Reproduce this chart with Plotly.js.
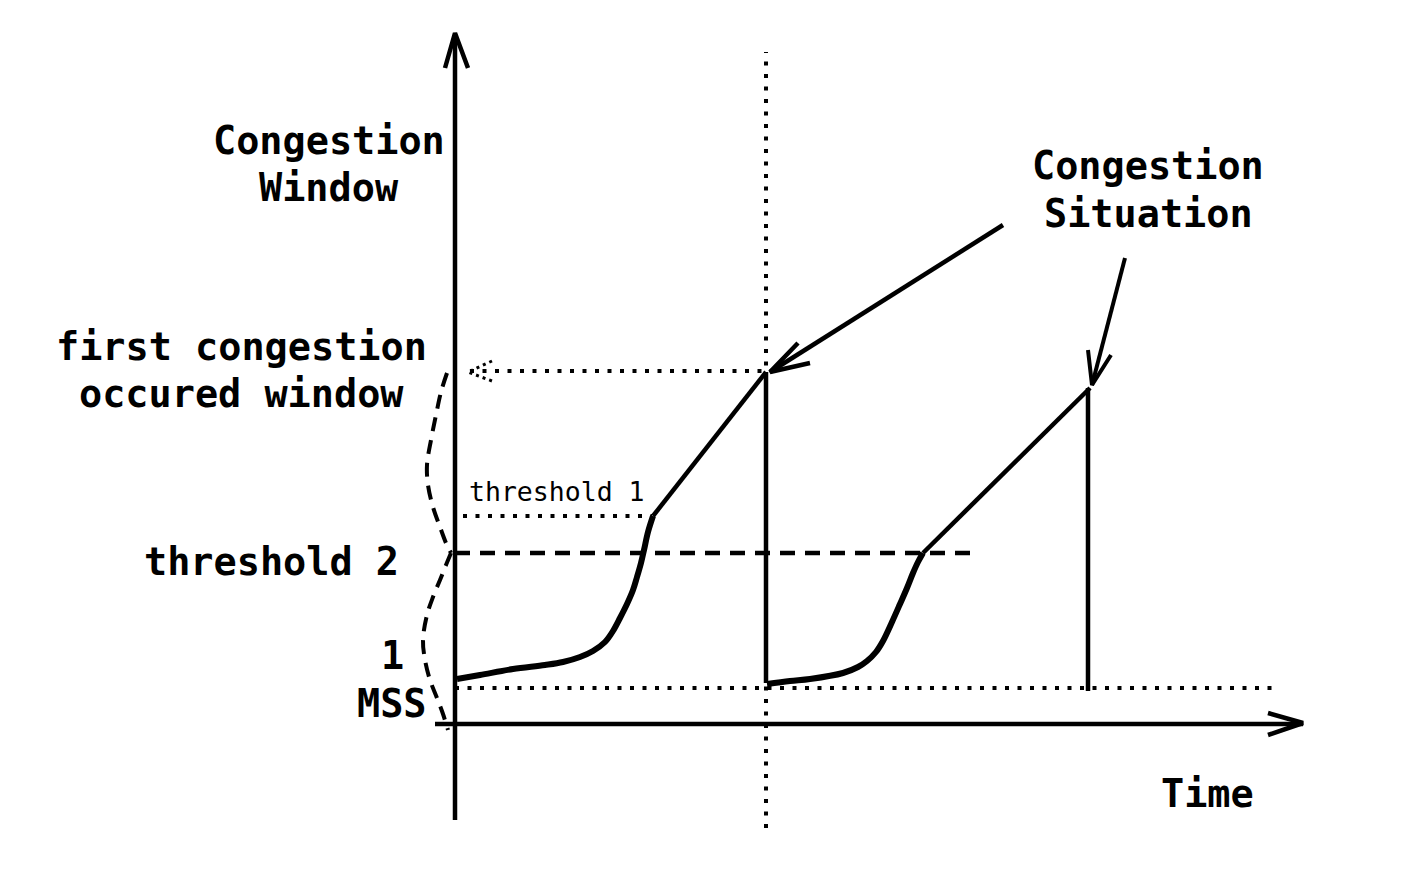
<!DOCTYPE html>
<html>
<head>
<meta charset="utf-8">
<script src="https://cdn.plot.ly/plotly-3.0.1.min.js"></script>
<style>
html,body{margin:0;padding:0;background:#fff;}
#chart{width:1404px;height:884px;}
</style>
</head>
<body>
<div id="chart"></div>
<script>
// Chart units: time (x) and congestion window (y), origin at the axes crossing
// First cycle: slow start (exponential), congestion avoidance (linear), drop
const slowStart1X = [2, 25, 58, 90, 108, 125, 138, 150, 158, 165, 172, 178, 182, 186, 189, 193, 198];
const slowStart1Y = [45, 49, 55, 59, 62, 67, 73, 82, 93, 106, 120, 134, 147, 161, 174, 192, 208];
const avoid1X = [198, 311];
const avoid1Y = [208, 352];
const drop1X = [311, 311];
const drop1Y = [352, 41];
// Second cycle
const slowStart2X = [312, 335, 355, 388, 403, 412, 421, 428, 437, 445, 452, 458, 463, 468];
const slowStart2Y = [40, 43, 45, 51, 57, 63, 72, 83, 102, 120, 136, 151, 162, 171];
const avoid2X = [468, 635];
const avoid2Y = [171, 336];
const drop2X = [633, 633];
const drop2Y = [336, 33];

// Reference levels
const firstCongestionLevel = 353;
const threshold1Level = 208;
const threshold2Level = 171;
const mssLevel = 36;
const congestionTime1 = 311;

// Axes (hand drawn)
const yAxisX = [0, 0];
const yAxisY = [-96, 689];
const yArrowX = [-10, 0, 13];
const yArrowY = [656, 691, 656];
const xAxisX = [-20, 848];
const xAxisY = [0, 0];
const xArrowX = [813, 848, 813];
const xArrowY = [11, 1, -11];

// Annotation pointers
const pointer1X = [548, 315];
const pointer1Y = [499, 352];
const pointer1HeadX = [343, 315, 355];
const pointer1HeadY = [381, 352, 361];
const pointer2X = [670, 637];
const pointer2Y = [466, 339];
const pointer2HeadX = [633, 637, 656];
const pointer2HeadY = [374, 339, 369];

// Dashed brace on the left
const braceUpperX = [-8, -14, -19, -24, -28, -27, -22, -15, -9, -4];
const braceUpperY = [351, 332, 309, 284, 259, 239, 217, 197, 181, 171];
const braceLowerX = [-4, -9, -15, -22, -28, -32, -30, -25, -18, -12, -7];
const braceLowerY = [171, 159, 144, 127, 109, 84, 64, 44, 26, 10, -6];
// little dotted arrow head at the first congestion level
const dotHeadX = [37, 13, 37];
const dotHeadY = [363, 352, 343];

// Labels
const labelTexts = ["Congestion", "Window", "first congestion", "occured window",
  "threshold 2", "1", "MSS", "Congestion", "Situation", "Time"];
const labelX = [-126, -126, -214, -214, -184, -63, -63, 693, 693, 752];
const labelY = [584, 537, 378, 331, 163, 69, 21, 559, 511, -69];
const smallLabelText = "threshold 1";
const smallLabelX = 102;
const smallLabelY = 233;

const K = '#000';
function line(x, y, w, dash, shape) {
  return {x: x, y: y, type: 'scatter', mode: 'lines', hoverinfo: 'skip',
    line: {color: K, width: w, dash: dash || 'solid', shape: shape || 'linear'}};
}
const dotted = '4px,8.5px';
const dashed = '15px,10px';

const traces = [
  line(yAxisX, yAxisY, 4.5),
  line(yArrowX, yArrowY, 4.5),
  line(xAxisX, xAxisY, 4.5),
  line(xArrowX, xArrowY, 4.5),
  line([congestionTime1, congestionTime1], [-104, 672], 4, dotted),
  line([15, congestionTime1], [firstCongestionLevel, firstCongestionLevel], 4, dotted),
  line(dotHeadX, dotHeadY, 3, '3px,4px'),
  line([8, 197], [threshold1Level, threshold1Level], 4, dotted),
  line([0, 520], [threshold2Level, threshold2Level], 4.5, dashed),
  line([0, 817], [mssLevel, mssLevel], 4, dotted),
  line(braceUpperX, braceUpperY, 4, '14px,9px', 'spline'),
  line(braceLowerX, braceLowerY, 4, '14px,9px', 'spline'),
  line(slowStart1X, slowStart1Y, 6, 'solid', 'spline'),
  line(avoid1X, avoid1Y, 4.5),
  line(drop1X, drop1Y, 4.5),
  line(slowStart2X, slowStart2Y, 6, 'solid', 'spline'),
  line(avoid2X, avoid2Y, 4.5),
  line(drop2X, drop2Y, 4.5),
  line(pointer1X, pointer1Y, 4.5),
  line(pointer1HeadX, pointer1HeadY, 4.5),
  line(pointer2X, pointer2Y, 4),
  line(pointer2HeadX, pointer2HeadY, 4)
];

const font = 'DejaVu Sans Mono, monospace';
const annotations = labelTexts.map((t, i) => ({
  x: labelX[i], y: labelY[i], xref: 'x', yref: 'y', text: '<b>' + t + '</b>',
  showarrow: false, xanchor: 'center', yanchor: 'middle',
  font: {family: font, size: 38.5, color: K}
}));
annotations.push({x: smallLabelX, y: smallLabelY, xref: 'x', yref: 'y', text: smallLabelText,
  showarrow: false, xanchor: 'center', yanchor: 'middle',
  font: {family: font, size: 26.5, color: K}});

const layout = {
  width: 1404, height: 884,
  margin: {l: 0, r: 0, t: 0, b: 0},
  paper_bgcolor: '#fff', plot_bgcolor: '#fff',
  showlegend: false,
  xaxis: {range: [-455, 949], visible: false, fixedrange: true},
  yaxis: {range: [-160, 724], visible: false, fixedrange: true},
  annotations: annotations
};

Plotly.newPlot('chart', traces, layout, {staticPlot: true, displayModeBar: false});
</script>
</body>
</html>
